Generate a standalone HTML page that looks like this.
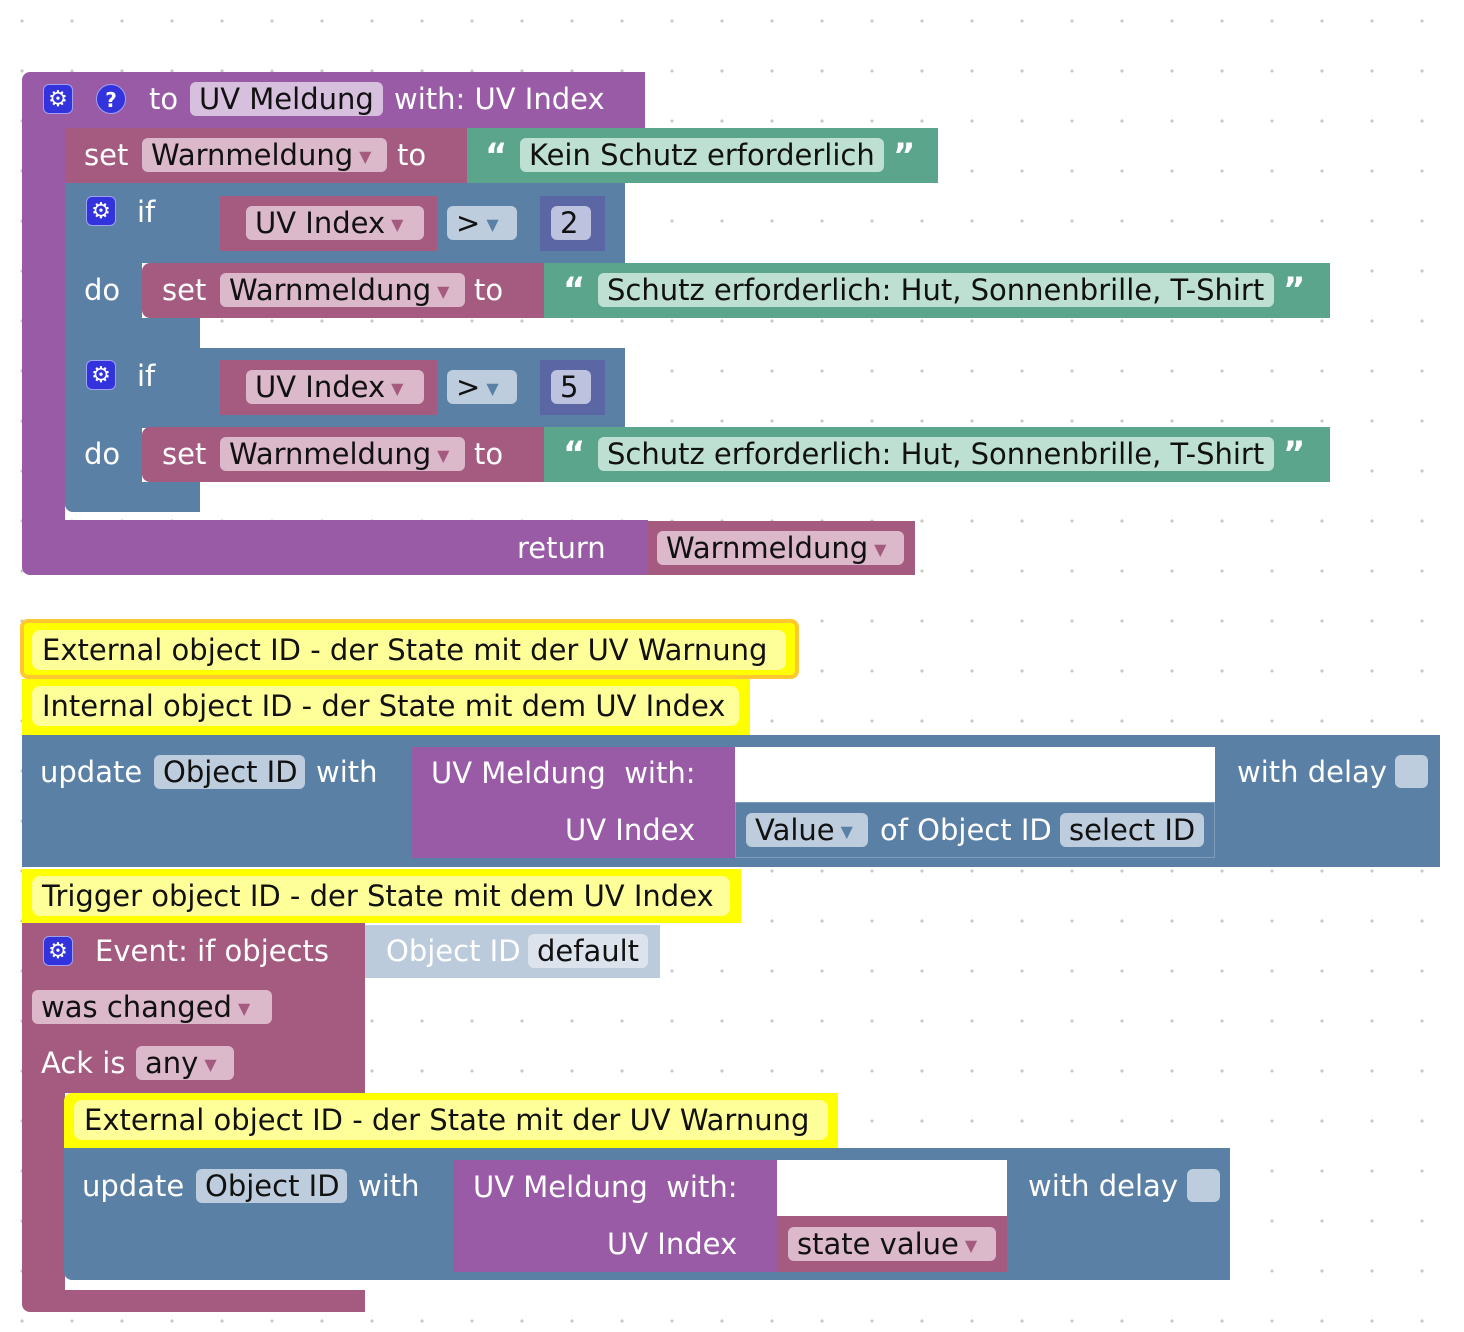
<!DOCTYPE html>
<html><head><meta charset="utf-8"><style>
body{margin:0;width:1464px;height:1332px;position:relative;overflow:hidden;background:#fff;
background-image:radial-gradient(circle,#c8c8c8 1.4px,transparent 1.8px);background-size:50px 50px;background-position:-3px -4px;
font-family:"DejaVu Sans","Liberation Sans",sans-serif;font-size:29px}
div{position:absolute;box-sizing:border-box}
.t{color:#fff;height:34px;line-height:34px;white-space:nowrap}
.f{height:34px;line-height:34px;border-radius:6px;white-space:nowrap;color:#111;padding:0 9px;overflow:hidden}
.pu{background:#995ba5}.pk{background:#a55b80}.bl{background:#5b80a5}.gr{background:#5ba58c}.ma{background:#5b67a5}
.fpk{background:#dcb8cb}.fpu{background:#d7bfde}.fgr{background:#bde0d2}.fbl{background:#bdcddd}.fma{background:#bdc2df}
.arr{color:#a55b80;font-size:16px;margin-left:6px;vertical-align:3px}.arb{color:#5b80a5;font-size:16px;margin-left:6px;vertical-align:3px}
.cm{background:#ffff00}.cf{background:#ffff99;height:40px;line-height:40px;border-radius:8px;padding:0 10px;color:#111;white-space:nowrap}
.ic{width:30px;height:30px;background:#3333dd;border-radius:6px;color:#fff;text-align:center;line-height:30px;font-size:22px;border:1px solid #a0a0f0}
.q{border-radius:50%;font-weight:bold;font-size:20px}
.quo{color:#fff;font-size:34px;font-weight:bold;height:34px;line-height:40px}
</style></head><body>

<!-- procedure -->
<div class="pu" style="left:22px;top:72px;width:623px;height:56px;border-radius:8px 0 0 0"></div>
<div class="pu" style="left:22px;top:128px;width:43px;height:420px"></div>
<div class="pu" style="left:22px;top:520px;width:626px;height:55px;border-radius:0 0 0 8px"></div>
<div class="ic" style="left:43px;top:84px">⚙</div>
<div class="ic q" style="left:96px;top:84px">?</div>
<div class="t" style="left:149px;top:82px">to</div>
<div class="f fpu" style="left:190px;top:82px;width:193px">UV Meldung</div>
<div class="t" style="left:394px;top:82px">with: UV Index</div>

<!-- set 1 -->
<div class="pk" style="left:65px;top:128px;width:402px;height:55px"></div>
<div class="t" style="left:84px;top:138px">set</div>
<div class="f fpk" style="left:142px;top:138px;width:245px">Warnmeldung<span class="arr">▼</span></div>
<div class="t" style="left:397px;top:138px">to</div>
<div class="gr" style="left:467px;top:128px;width:471px;height:55px"></div>
<div class="quo" style="left:485px;top:136px">“</div>
<div class="f fgr" style="left:520px;top:138px;width:364px">Kein Schutz erforderlich</div>
<div class="quo" style="left:893px;top:136px">”</div>

<!-- if blocks -->
<div class="bl" style="left:65px;top:183px;width:560px;height:80px"></div>
<div class="bl" style="left:65px;top:183px;width:77px;height:165px"></div>
<div class="bl" style="left:65px;top:318px;width:135px;height:30px"></div>
<div class="ic" style="left:86px;top:196px">⚙</div>
<div class="t" style="left:137px;top:195px">if</div>
<div class="pk" style="left:220px;top:196px;width:217px;height:55px"></div>
<div class="f fpk" style="left:246px;top:206px;width:178px">UV Index<span class="arr">▼</span></div>
<div class="f fbl" style="left:447px;top:206px;width:70px">&gt;<span class="arb">▼</span></div>
<div class="ma" style="left:540px;top:196px;width:65px;height:55px"></div>
<div class="f fma" style="left:551px;top:206px;width:40px">2</div>
<div class="t" style="left:84px;top:273px">do</div>
<div class="pk" style="left:142px;top:263px;width:402px;height:55px;border-radius:8px 0 0 8px"></div>
<div class="t" style="left:162px;top:273px">set</div>
<div class="f fpk" style="left:220px;top:273px;width:245px">Warnmeldung<span class="arr">▼</span></div>
<div class="t" style="left:474px;top:273px">to</div>
<div class="gr" style="left:544px;top:263px;width:786px;height:55px"></div>
<div class="quo" style="left:563px;top:270px">“</div>
<div class="f fgr" style="left:598px;top:273px;width:676px">Schutz erforderlich: Hut, Sonnenbrille, T-Shirt</div>
<div class="quo" style="left:1283px;top:270px">”</div>

<div class="bl" style="left:65px;top:348px;width:560px;height:80px"></div>
<div class="bl" style="left:65px;top:348px;width:77px;height:164px;border-radius:0 0 0 8px"></div>
<div class="bl" style="left:65px;top:482px;width:135px;height:30px;border-radius:0 0 0 8px"></div>
<div class="ic" style="left:86px;top:360px">⚙</div>
<div class="t" style="left:137px;top:359px">if</div>
<div class="pk" style="left:220px;top:360px;width:217px;height:55px"></div>
<div class="f fpk" style="left:246px;top:370px;width:178px">UV Index<span class="arr">▼</span></div>
<div class="f fbl" style="left:447px;top:370px;width:70px">&gt;<span class="arb">▼</span></div>
<div class="ma" style="left:540px;top:360px;width:65px;height:55px"></div>
<div class="f fma" style="left:551px;top:370px;width:40px">5</div>
<div class="t" style="left:84px;top:437px">do</div>
<div class="pk" style="left:142px;top:427px;width:402px;height:55px;border-radius:8px 0 0 8px"></div>
<div class="t" style="left:162px;top:437px">set</div>
<div class="f fpk" style="left:220px;top:437px;width:245px">Warnmeldung<span class="arr">▼</span></div>
<div class="t" style="left:474px;top:437px">to</div>
<div class="gr" style="left:544px;top:427px;width:786px;height:55px"></div>
<div class="quo" style="left:563px;top:434px">“</div>
<div class="f fgr" style="left:598px;top:437px;width:676px">Schutz erforderlich: Hut, Sonnenbrille, T-Shirt</div>
<div class="quo" style="left:1283px;top:434px">”</div>

<div class="t" style="left:517px;top:531px">return</div>
<div class="pk" style="left:648px;top:521px;width:267px;height:54px"></div>
<div class="f fpk" style="left:657px;top:531px;width:247px">Warnmeldung<span class="arr">▼</span></div>

<!-- comments -->
<div class="cm" style="left:20px;top:619px;width:779px;height:60px;border:4px solid #ffc830;border-radius:8px"></div>
<div class="cf" style="left:32px;top:630px;width:754px">External object ID - der State mit der UV Warnung</div>
<div class="cm" style="left:22px;top:679px;width:728px;height:56px"></div>
<div class="cf" style="left:32px;top:686px;width:707px">Internal object ID - der State mit dem UV Index</div>

<!-- update 1 -->
<div class="bl" style="left:22px;top:735px;width:1418px;height:132px"></div>
<div class="t" style="left:40px;top:755px">update</div>
<div class="f fbl" style="left:154px;top:755px;width:151px">Object ID</div>
<div class="t" style="left:316px;top:755px">with</div>
<div class="pu" style="left:412px;top:747px;width:323px;height:111px"></div>
<div style="left:735px;top:747px;width:480px;height:55px;background:#fff"></div>
<div class="t" style="left:431px;top:756px">UV Meldung&nbsp; with:</div>
<div class="t" style="left:565px;top:813px">UV Index</div>
<div class="bl" style="left:735px;top:802px;width:480px;height:56px;border:1px solid #7d9bba"></div>
<div class="f fbl" style="left:746px;top:813px;width:122px">Value<span class="arb">▼</span></div>
<div class="t" style="left:880px;top:813px">of Object ID</div>
<div class="f fbl" style="left:1060px;top:813px;width:144px">select ID</div>
<div class="t" style="left:1237px;top:755px">with delay</div>
<div style="left:1395px;top:755px;width:33px;height:33px;background:#bdcddd;border-radius:6px"></div>

<div class="cm" style="left:22px;top:869px;width:719px;height:54px"></div>
<div class="cf" style="left:32px;top:876px;width:698px">Trigger object ID - der State mit dem UV Index</div>

<!-- event -->
<div class="pk" style="left:22px;top:923px;width:343px;height:170px"></div>
<div class="pk" style="left:22px;top:1093px;width:43px;height:210px"></div>
<div class="pk" style="left:22px;top:1290px;width:343px;height:22px;border-radius:0 0 0 8px"></div>
<div class="ic" style="left:43px;top:936px">⚙</div>
<div class="t" style="left:95px;top:934px">Event: if objects</div>
<div style="left:365px;top:925px;width:295px;height:53px;background:#bccbdb"></div>
<div class="t" style="left:386px;top:934px">Object ID</div>
<div class="f" style="left:528px;top:934px;width:120px;background:#dde3ec">default</div>
<div class="f fpk" style="left:32px;top:990px;width:240px">was changed<span class="arr">▼</span></div>
<div class="t" style="left:41px;top:1046px">Ack is</div>
<div class="f fpk" style="left:136px;top:1046px;width:98px">any<span class="arr">▼</span></div>

<div class="cm" style="left:64px;top:1093px;width:774px;height:55px;border-radius:8px 0 0 0"></div>
<div class="cf" style="left:74px;top:1100px;width:754px">External object ID - der State mit der UV Warnung</div>

<div class="bl" style="left:64px;top:1148px;width:1166px;height:132px;border-radius:0 0 0 8px"></div>
<div class="t" style="left:82px;top:1169px">update</div>
<div class="f fbl" style="left:196px;top:1169px;width:151px">Object ID</div>
<div class="t" style="left:358px;top:1169px">with</div>
<div class="pu" style="left:454px;top:1160px;width:323px;height:112px"></div>
<div style="left:777px;top:1160px;width:230px;height:56px;background:#fff"></div>
<div class="t" style="left:473px;top:1170px">UV Meldung&nbsp; with:</div>
<div class="t" style="left:607px;top:1227px">UV Index</div>
<div class="pk" style="left:777px;top:1216px;width:230px;height:56px"></div>
<div class="f fpk" style="left:788px;top:1227px;width:208px">state value<span class="arr">▼</span></div>
<div class="t" style="left:1028px;top:1169px">with delay</div>
<div style="left:1187px;top:1169px;width:33px;height:33px;background:#bdcddd;border-radius:6px"></div>

</body></html>
